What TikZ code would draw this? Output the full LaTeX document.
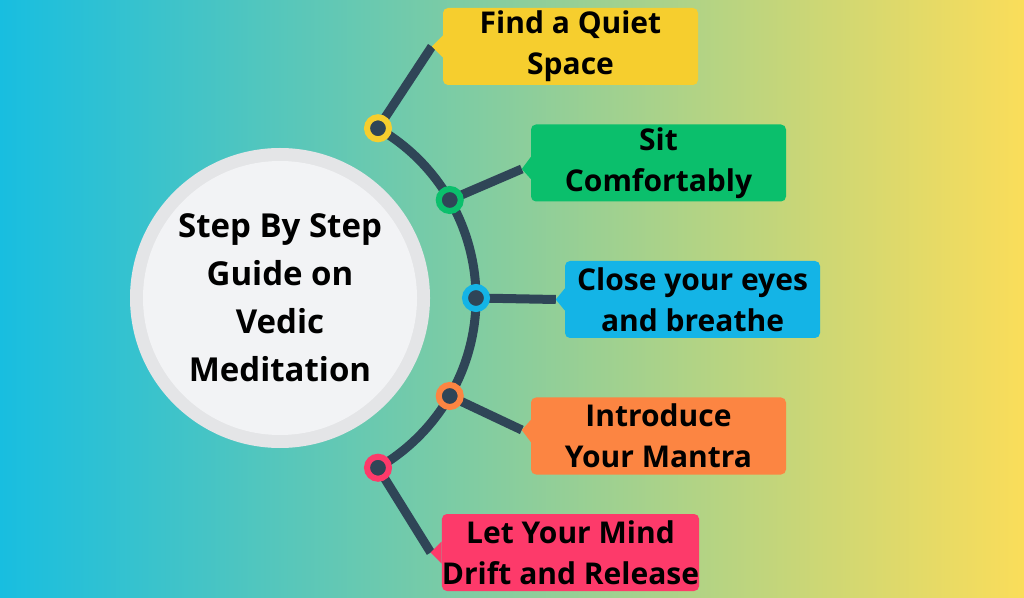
\documentclass[tikz,border=0pt]{standalone}
\usepackage{fontspec}
\setmainfont{Open Sans}
\usepackage{xcolor}
\usepackage{tikz}
\usetikzlibrary{positioning,calc,backgrounds}
\definecolor{bgleft}{RGB}{24, 190, 224}
\definecolor{bgmid}{RGB}{142, 211, 158}
\definecolor{bgright}{RGB}{250, 221, 90}
\definecolor{spinecolor}{RGB}{47, 69, 87}
\definecolor{hubring}{RGB}{228, 229, 231}
\definecolor{hubfill}{RGB}{242, 243, 245}
\definecolor{stepyellow}{RGB}{246, 206, 46}
\definecolor{stepgreen}{RGB}{11, 191, 108}
\definecolor{stepblue}{RGB}{20, 180, 230}
\definecolor{steporange}{RGB}{252, 133, 66}
\definecolor{steppink}{RGB}{253, 58, 106}
\tikzset{
    spine/.style={line width=9pt, draw=spinecolor},
    step dot/.style={circle, draw=#1, line width=6pt, fill=spinecolor, minimum size=22pt, inner sep=0pt},
    step box/.style={rectangle, rounded corners=5pt, fill=#1, minimum width=255pt, minimum height=77pt,
        align=center, font=\fontsize{30}{41}\selectfont\bfseries, inner sep=0pt},
    pointer/.style={fill=#1}
}

\begin{document}
\begin{tikzpicture}[x=1pt, y=1pt]
    % Background
    \useasboundingbox (0,0) rectangle (1024,597);
    \begin{scope}[on background layer]
        \shade[left color=bgleft, middle color=bgmid, right color=bgright] (0,0) rectangle (1024,597);
    \end{scope}

    % Central hub
    \node[circle, fill=hubring, minimum size=300pt, inner sep=0pt] (hub) at (280,299) {};
    \node[circle, fill=hubfill, minimum size=274pt, inner sep=0pt, align=center,
        font=\fontsize{33}{48}\selectfont\bfseries] (title) at (hub) {Step By Step\\ Guide on\\Vedic\\Meditation};

    % Dots on the arc
    \node[step dot=stepyellow] (d1) at ([shift={(60:196)}]hub.center) {};
    \node[step dot=stepgreen] (d2) at ([shift={(30:196)}]hub.center) {};
    \node[step dot=stepblue] (d3) at ([shift={(0:196)}]hub.center) {};
    \node[step dot=steporange] (d4) at ([shift={(-30:196)}]hub.center) {};
    \node[step dot=steppink] (d5) at ([shift={(-60:196)}]hub.center) {};

    % Step boxes
    \node[step box=stepyellow] (b1) at (570.5,550.5) {Find a Quiet\\Space};
    \node[step box=stepgreen] (b2) at (658.5,434) {Sit\\Comfortably};
    \node[step box=stepblue] (b3) at (692.5,297.5) {Close your eyes\\and breathe};
    \node[step box=steporange] (b4) at (658.5,161) {Introduce\\Your Mantra};
    \node[step box=steppink] (b5) at (570.5,44.5) {Let Your Mind\\Drift and Release};

    % Pointer tips
    \coordinate (t1) at ([xshift=-11pt]b1.west);
    \coordinate (t2) at ([xshift=-9pt, yshift=-6pt]b2.west);
    \coordinate (t3) at ([xshift=-9pt]b3.west);
    \coordinate (t4) at ([xshift=-9pt, yshift=6pt]b4.west);
    \coordinate (t5) at ([xshift=-11pt]b5.west);
    \fill[pointer=stepyellow] ([yshift=11pt]b1.west) -- (t1) -- ([yshift=-11pt]b1.west) -- cycle;
    \fill[pointer=stepgreen] ([yshift=6pt]b2.west) -- (t2) -- ([yshift=-16pt]b2.west) -- cycle;
    \fill[pointer=stepblue] ([yshift=11pt]b3.west) -- (t3) -- ([yshift=-11pt]b3.west) -- cycle;
    \fill[pointer=steporange] ([yshift=16pt]b4.west) -- (t4) -- ([yshift=-6pt]b4.west) -- cycle;
    \fill[pointer=steppink] ([yshift=11pt]b5.west) -- (t5) -- ([yshift=-11pt]b5.west) -- cycle;

    % Arc and branches
    \begin{scope}[on background layer]
        \draw[spine] (d1.center) arc[start angle=60, end angle=-60, radius=196];
        \draw[spine] (d1.center) -- (t1);
        \draw[spine] (d2.center) -- (t2);
        \draw[spine] (d3.center) -- (t3);
        \draw[spine] (d4.center) -- (t4);
        \draw[spine] (d5.center) -- (t5);
    \end{scope}
\end{tikzpicture}
\end{document}
